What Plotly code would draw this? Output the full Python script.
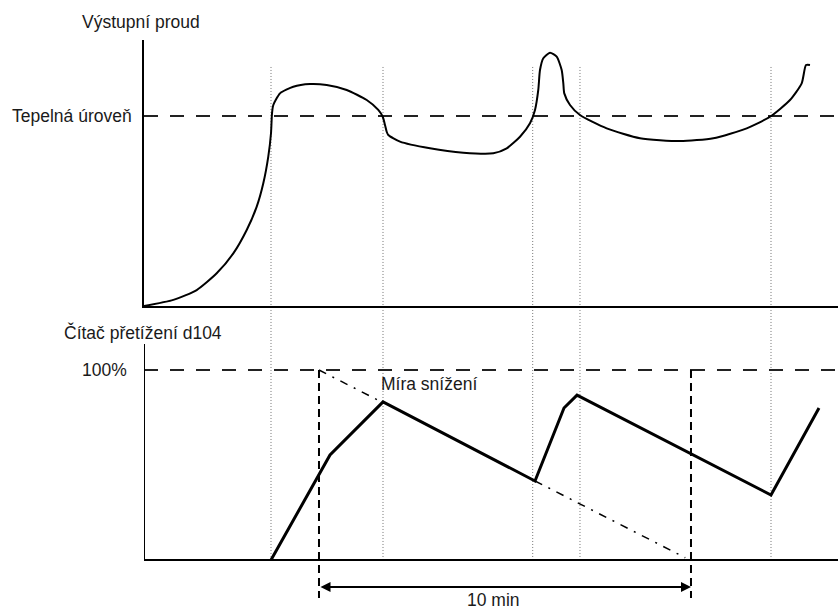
import plotly.graph_objects as go

# ---- data -------------------------------------------------------------
# time axis in minutes; output current in % of the thermal level
current_t = [0.0, 0.788, 1.417, 1.954, 2.401, 2.761, 3.030, 3.207, 3.341, 3.414,
             3.441, 3.476, 3.656, 4.013, 4.462, 4.911, 5.449, 5.987, 6.298, 6.417,
             6.478, 6.524, 6.567, 6.882, 7.688, 8.583, 9.390, 9.750, 10.108, 10.376,
             10.511, 10.599, 10.645, 10.734, 10.914, 11.094, 11.228, 11.272, 11.298,
             11.452, 11.720, 12.438, 13.333, 14.409, 15.304, 16.202, 16.828, 17.366,
             17.680, 17.796, 17.903]
current_v = [0.0, 3.2, 8.4, 17.2, 27.7, 40.0, 52.3, 64.6, 78.6, 90.9,
             101.4, 105.8, 111.9, 115.4, 116.8, 116.3, 113.7, 108.4, 103.2, 99.6,
             95.3, 91.7, 90.0, 86.5, 83.0, 80.7, 80.4, 83.0, 89.1, 96.2,
             103.2, 113.7, 124.2, 130.4, 133.3, 131.2, 124.2, 117.2, 111.9,
             105.8, 100.5, 93.5, 88.3, 86.8, 88.3, 93.5, 99.6, 108.4,
             117.2, 126.8, 126.8]

# overload counter d104 (%)
counter_t = [3.414, 5.0, 6.425, 10.511, 11.290, 11.640, 16.855, 18.145]
counter_v = [0.0, 55.3, 83.2, 41.6, 80.0, 86.8, 34.2, 80.0]

# decrease-rate reference lines (10 %/min)
decay1_t = [4.704, 6.425]
decay1_v = [100.0, 82.8]
decay2_t = [10.511, 14.55]
decay2_v = [41.6, 1.2]

thermal_level = 100.0
counter_full = 100.0
event_t = [3.414, 6.425, 10.449, 11.720, 16.855]
window_t = [4.704, 14.704]          # 10 min window
window_low = -20.0
t_max = 18.656

FONT = "Liberation Sans, Arial, sans-serif"
TXT = "#1a1a1a"
REF_DASH = "14px,12px"
REF_COLOR = "#222222"

fig = go.Figure()

# thermal level
fig.add_trace(go.Scatter(x=[0, t_max], y=[thermal_level, thermal_level], mode="lines",
                         line=dict(color=REF_COLOR, width=2, dash=REF_DASH),
                         xaxis="x", yaxis="y", hoverinfo="skip"))
# 100 % counter level, split at the end of the 10 min window
for x_pair in ([0, window_t[1]], [window_t[1], t_max]):
    fig.add_trace(go.Scatter(x=x_pair, y=[counter_full, counter_full], mode="lines",
                             line=dict(color=REF_COLOR, width=2, dash=REF_DASH),
                             xaxis="x2", yaxis="y2", hoverinfo="skip"))

# 10 min window bounds
for t in window_t:
    fig.add_trace(go.Scatter(x=[t, t], y=[counter_full, window_low], mode="lines",
                             line=dict(color="black", width=2, dash="8px,5px"),
                             xaxis="x2", yaxis="y2", hoverinfo="skip"))

# output current
fig.add_trace(go.Scatter(x=current_t, y=current_v, mode="lines",
                         line=dict(color="black", width=2, shape="spline", smoothing=0.6),
                         xaxis="x", yaxis="y", hoverinfo="skip"))

# overload counter
fig.add_trace(go.Scatter(x=counter_t, y=counter_v, mode="lines",
                         line=dict(color="black", width=3),
                         xaxis="x2", yaxis="y2", hoverinfo="skip"))

# decrease rate
for dt, dv in ((decay1_t, decay1_v), (decay2_t, decay2_v)):
    fig.add_trace(go.Scatter(x=dt, y=dv, mode="lines",
                             line=dict(color="black", width=1.5, dash="8px,7px,2px,7px"),
                             xaxis="x2", yaxis="y2", hoverinfo="skip"))

shapes = []
# event markers spanning both panels
for t in event_t:
    shapes.append(dict(type="line", xref="x", yref="paper", x0=t, x1=t,
                       y0=0.0820, y1=0.8934,
                       line=dict(color="#777777", width=1, dash="1px,2px"), layer="below"))
# left axis line of the counter panel
shapes.append(dict(type="line", xref="x2", yref="y2", x0=0, x1=0, y0=0, y1=113.68,
                   line=dict(color="black", width=2)))

annotations = [
    dict(text="Výstupní proud", xref="paper", yref="paper", x=140.5 / 838, y=1 - 22 / 610,
         showarrow=False, xanchor="center", yanchor="middle"),
    dict(text="Čítač přetížení d104", xref="paper", yref="paper", x=143 / 838, y=1 - 332 / 610,
         showarrow=False, xanchor="center", yanchor="middle"),
    dict(text="Tepelná úroveň", xref="paper", yref="y", x=134 / 838, y=thermal_level,
         showarrow=False, xanchor="right", yanchor="middle"),
    dict(text="100%", xref="paper", yref="y2", x=129 / 838, y=counter_full,
         showarrow=False, xanchor="right", yanchor="middle"),
    dict(text="Míra snížení", xref="x2", yref="y2", x=6.317, y=92.6,
         showarrow=False, xanchor="left", yanchor="middle"),
    dict(text="10 min", xref="x2", yref="y2", x=9.4, y=-21.0,
         showarrow=False, xanchor="center", yanchor="middle"),
    dict(text="", xref="x2", yref="y2", axref="x2", ayref="y2",
         x=window_t[1], y=-14.2, ax=window_t[0], ay=-14.2,
         showarrow=True, arrowside="end+start", arrowhead=2, startarrowhead=2,
         arrowsize=1, startarrowsize=1, arrowwidth=2, arrowcolor="black",
         standoff=0, startstandoff=0),
]

fig.update_layout(
    width=838, height=610,
    margin=dict(l=0, r=0, t=0, b=0),
    paper_bgcolor="white", plot_bgcolor="white",
    showlegend=False,
    font=dict(family=FONT, size=17.5, color=TXT),
    xaxis=dict(domain=[144 / 838, 1], range=[0, t_max], showgrid=False, zeroline=False,
               showline=True, linecolor="black", linewidth=2, showticklabels=False,
               ticks="", anchor="y"),
    yaxis=dict(domain=[1 - 306 / 610, 1 - 40 / 610], range=[0, 140], showgrid=False,
               zeroline=False, showline=True, linecolor="black", linewidth=2,
               showticklabels=False, ticks="", anchor="x"),
    xaxis2=dict(domain=[144 / 838, 1], range=[0, t_max], showgrid=False, zeroline=False,
                showline=False, showticklabels=False, ticks="", anchor="y2"),
    yaxis2=dict(domain=[0, 1 - 344 / 610], range=[-26.316, 113.684], showgrid=False,
                zeroline=True, zerolinecolor="black", zerolinewidth=2,
                showline=False, showticklabels=False, ticks="", anchor="x2"),
    shapes=shapes,
    annotations=annotations,
)

fig.write_html("out.html")
